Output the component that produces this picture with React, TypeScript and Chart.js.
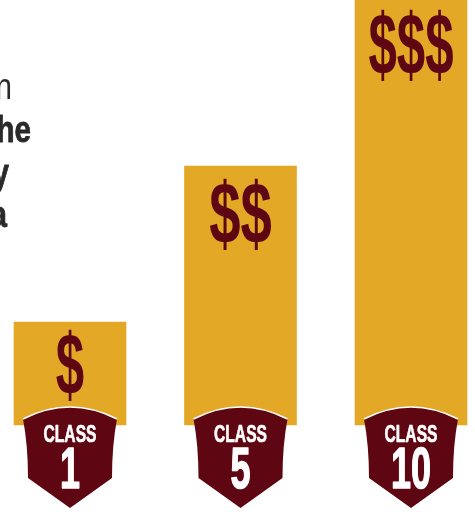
import React, { useEffect, useRef } from "react";
import { Chart, registerables } from "chart.js";

Chart.register(...registerables);

const categories = ["1", "5", "10"];
const classPrefix = "CLASS";
const barValues = [103, 259, 425];
const costMarks = ["$", "$$", "$$$"];
const introLines = [
  { text: "n", right: 12, base: 99, bold: false },
  { text: "the", right: 31, base: 142, bold: true },
  { text: "y", right: 9, base: 185, bold: true },
  { text: "a", right: 7, base: 227, bold: true },
];

const GOLD = "#E3A826";
const MAROON = "#5E0611";
const FAMILY = '"Liberation Sans Narrow", "Liberation Sans", sans-serif';

function stretched(ctx: CanvasRenderingContext2D, text: string, x: number, y: number, font: string, sx: number, color: string, align: CanvasTextAlign = "center", heavy = 0) {
  ctx.save();
  ctx.translate(x, y);
  ctx.scale(sx, 1);
  ctx.font = font;
  ctx.fillStyle = color;
  ctx.textAlign = align;
  ctx.textBaseline = "alphabetic";
  ctx.fillText(text, 0, 0);
  if (heavy > 0) {
    ctx.strokeStyle = color;
    ctx.lineWidth = heavy;
    ctx.lineJoin = "round";
    ctx.strokeText(text, 0, 0);
  }
  ctx.restore();
}

const markScale = [0.58, 0.64, 0.58];
const markBase = [395, 244, 75];

const overlay = {
  id: "overlay",
  afterDatasetsDraw(chart: any) {
    const ctx: CanvasRenderingContext2D = chart.ctx;
    const xs = chart.scales.x;
    const ys = chart.scales.y;

    introLines.forEach((l) => {
      stretched(ctx, l.text, l.right, l.base, `${l.bold ? "bold " : ""}37px ${FAMILY}`, 0.8, "#2A2A2A", "right", l.bold ? 0.8 : 0);
    });

    categories.forEach((cat, i) => {
      const cx = xs.getPixelForValue(i);
      const b = ys.getPixelForValue(0);

      stretched(ctx, costMarks[i], cx, markBase[i], `bold 88px ${FAMILY}`, markScale[i], MAROON);

      ctx.beginPath();
      ctx.moveTo(cx - 47, b - 6);
      ctx.quadraticCurveTo(cx, b - 30, cx + 47, b - 6);
      ctx.quadraticCurveTo(cx + 42, b + 20, cx + 42, b + 53);
      ctx.lineTo(cx, b + 83);
      ctx.lineTo(cx - 42, b + 53);
      ctx.quadraticCurveTo(cx - 42, b + 20, cx - 47, b - 6);
      ctx.closePath();
      ctx.fillStyle = MAROON;
      ctx.fill();

      ctx.beginPath();
      ctx.moveTo(cx - 47, b - 6);
      ctx.quadraticCurveTo(cx, b - 30, cx + 47, b - 6);
      ctx.strokeStyle = "#FFFFFF";
      ctx.lineWidth = 1.5;
      ctx.stroke();

      stretched(ctx, classPrefix, cx, b + 17, `bold 24px ${FAMILY}`, 0.65, "#FFFFFF", "center", 0.7);
      stretched(ctx, cat, cx, b + 63, `bold 58px ${FAMILY}`, 0.62, "#FFFFFF", "center", 1.5);
    });
  },
};

export default function App() {
  const ref = useRef<HTMLCanvasElement>(null);
  useEffect(() => {
    const chart = new Chart(ref.current!, {
      type: "bar",
      data: {
        labels: categories,
        datasets: [
          {
            data: barValues,
            backgroundColor: GOLD,
            borderWidth: 0,
            barThickness: 112,
            clip: false as any,
          },
        ],
      },
      options: {
        responsive: false,
        animation: false,
        devicePixelRatio: 1,
        layout: { padding: { left: 70, right: 64, top: 0, bottom: 93 } },
        plugins: { legend: { display: false }, tooltip: { enabled: false }, title: { display: false } },
        scales: {
          x: { display: false, offset: false },
          y: { display: false, min: 0, max: 425 },
        },
      },
      plugins: [overlay],
    });
    return () => chart.destroy();
  }, []);
  return (
    <div style={{ position: "absolute", left: 0, top: 0, width: 475, height: 518, background: "#fff" }}>
      <canvas ref={ref} width={475} height={518} style={{ display: "block" }} />
    </div>
  );
}
